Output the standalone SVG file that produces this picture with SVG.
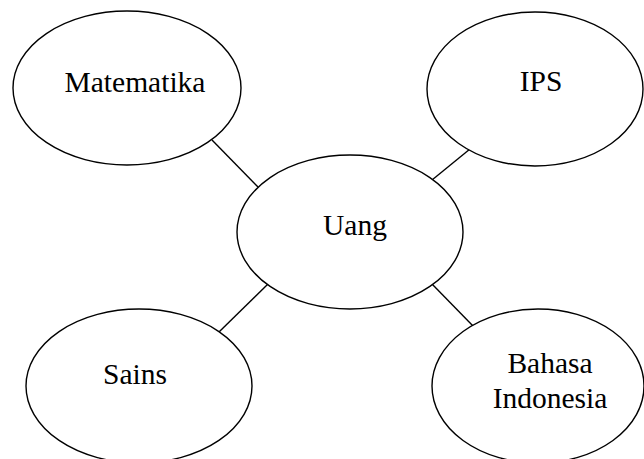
<svg xmlns="http://www.w3.org/2000/svg" width="644" height="459" viewBox="0 0 644 459">
<style>
.n ellipse{fill:#fff;stroke:#000;stroke-width:1.4}
.n text{font-family:"Liberation Serif","Times New Roman",serif;font-size:29.5px;fill:#000;text-anchor:middle}
#connectors line{stroke:#000;stroke-width:1.4}
</style>
<rect width="644" height="459" fill="#fff"/>
<g id="connectors">
<line x1="212" y1="140" x2="258" y2="187"/>
<line x1="470" y1="149" x2="432" y2="180"/>
<line x1="219" y1="332" x2="268" y2="284"/>
<line x1="432" y1="284" x2="474" y2="327"/>
</g>
<g id="matematika" class="n"><ellipse cx="127" cy="88" rx="114" ry="77"/><text x="135" y="92">Matematika</text></g>
<g id="ips" class="n"><ellipse cx="535" cy="89" rx="108" ry="77"/><text x="541" y="91">IPS</text></g>
<g id="uang" class="n"><ellipse cx="350" cy="232" rx="113" ry="77"/><text x="355" y="235">Uang</text></g>
<g id="sains" class="n"><ellipse cx="139" cy="386" rx="113" ry="77"/><text x="135" y="384">Sains</text></g>
<g id="bahasa" class="n"><ellipse cx="538" cy="386" rx="106" ry="77"/><text x="550" y="373">Bahasa</text><text x="550" y="408">Indonesia</text></g>
</svg>
